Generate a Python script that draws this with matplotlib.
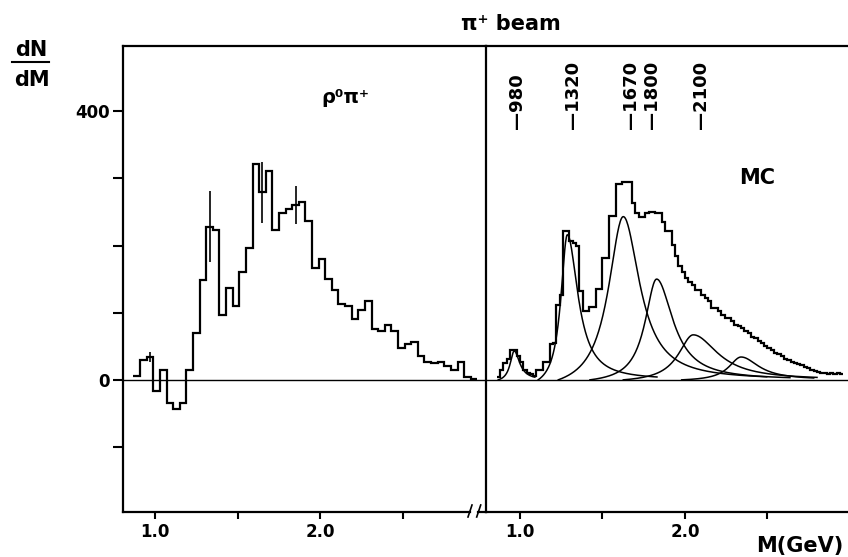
import numpy as np
import matplotlib
matplotlib.use("Agg")
import matplotlib.pyplot as plt
from matplotlib.lines import Line2D

plt.rcParams['font.family'] = ['DejaVu Sans']
plt.rcParams['font.weight'] = 'bold'

# rho0 pi+ spectrum, 40 MeV bins starting at 0.87 GeV
left_lo, left_w = 0.87, 0.04
left_counts = [5, 30, 34, -16, 14, -34, -44, -34, 14, 69, 149, 228, 223, 97, 136,
               110, 160, 197, 321, 279, 311, 223, 248, 255, 260, 265, 237, 167, 180,
               150, 134, 113, 110, 90, 104, 118, 76, 72, 81, 73, 48, 54, 56, 36, 26,
               25, 26, 21, 14, 27, 4, 1.5]
# bins that carry an error bar, and the half length of the bar
err_bins = [2, 11, 19, 24]
err_size = [8, 53, 46, 28]

# Monte Carlo spectrum, 20 MeV bins starting at 0.86 GeV
mc_lo, mc_w = 0.86, 0.02
mc_counts = [4, 14, 25, 31, 45, 45, 36, 26, 14, 10, 9, 6, 14, 14, 26, 26, 53, 55,
             112, 127, 221, 221, 207, 204, 200, 132, 102, 102, 108, 108, 135, 135,
             182, 182, 244, 244, 291, 291, 295, 295, 295, 264, 249, 242, 242, 248,
             250, 250, 248, 248, 235, 221, 221, 201, 184, 169, 161, 151, 146, 141,
             134, 134, 126, 122, 117, 107, 107, 102, 97, 92, 92, 87, 82, 80, 77, 73,
             69, 64, 62, 58, 55, 50, 47, 45, 40, 38, 35, 31, 29, 27, 25, 23, 22, 19,
             18, 15, 13, 11, 10, 10, 9, 10, 9, 10, 9]

# resonance components in the MC (peak position, height, half widths, range)
bw_peak = [0.965, 1.287, 1.626, 1.828, 2.05, 2.34]
bw_height = [43, 216, 243, 150, 67, 34]
bw_left = [0.030, 0.048, 0.109, 0.085, 0.11, 0.09]
bw_right = [0.040, 0.077, 0.12, 0.12, 0.18, 0.13]
bw_start = [0.868, 1.11, 1.232, 1.424, 1.626, 1.98]
bw_end = [1.09, 1.83, 2.495, 2.636, 2.80, 2.78]

mass_labels = ['980', '1320', '1670', '1800', '2100']

W, H = 848, 557


def box(x0, x1, ytop, ybot):
    return [x0 / W, 1 - ybot / H, (x1 - x0) / W, (ybot - ytop) / H]


fig = plt.figure(figsize=(W / 100, H / 100), dpi=100)
ax1 = fig.add_axes(box(122.7, 486, 46, 511.5))
ax2 = fig.add_axes(box(486, 850, 46, 511.5))

for ax in (ax1, ax2):
    ax.set_ylim(-196, 497)
    for s in ax.spines.values():
        s.set_linewidth(1.6)
    ax.spines['right'].set_visible(False)
    ax.axhline(0, color='k', lw=1.0, zorder=1)
    ax.set_xticks([1.0, 1.5, 2.0, 2.5])
    ax.set_xticklabels(['1.0', '', '2.0', ''])
    ax.tick_params(axis='x', direction='out', length=5, width=1.5, labelsize=12, pad=3)

ax1.set_xlim(0.805, 3.002)
ax2.set_xlim(0.794, 3.0)
ax1.spines['bottom'].set_bounds(0.805, 2.905)

ax1.set_yticks([-100, 0, 100, 200, 300, 400])
ax1.set_yticklabels(['', '0', '', '', '', '400'])
ax1.tick_params(axis='y', direction='out', length=7, width=1.5, labelsize=12, pad=2)
ax2.set_yticks([])

# data histogram
left_edges = left_lo + left_w * np.arange(len(left_counts) + 1)
ax1.stairs(left_counts, left_edges, color='k', lw=1.6, baseline=None)
centers = left_edges[:-1] + left_w / 2
ax1.errorbar(centers[err_bins], np.array(left_counts)[err_bins], yerr=err_size,
             fmt='none', ecolor='k', elinewidth=1.2, capsize=0)
ax1.text(2.149, 421, 'ρ⁰π⁺', fontsize=14, ha='center', va='center')

# MC histogram with its components
mc_edges = mc_lo + mc_w * np.arange(len(mc_counts) + 1)
ax2.stairs(mc_counts, mc_edges, color='k', lw=1.6, baseline=None)

for m0, a, gl, gr, s, e in zip(bw_peak, bw_height, bw_left, bw_right, bw_start, bw_end):
    m = np.linspace(s, e, 300)
    g = np.where(m < m0, gl, gr)
    lor = 1 / (1 + ((m - m0) / g) ** 2)
    ls = 1 / (1 + ((s - m0) / gl) ** 2)
    y = np.where(m < m0, a * (lor - ls) / (1 - ls), a * lor)
    ax2.plot(m, y, color='k', lw=1.1)

for lab in mass_labels:
    ax2.text(int(lab) / 1000, 373, '—' + lab, rotation=90, ha='center',
             va='bottom', fontsize=13)

ax2.text(2.44, 300, 'MC', fontsize=15, ha='center', va='center')

# axis break on the bottom line
for xb in (470, 478.7):
    fig.add_artist(Line2D([(xb - 2) / W, (xb + 2) / W], [1 - 517 / H, 1 - 505 / H],
                          color='k', lw=1.2))
fig.add_artist(Line2D([478 / W, 486 / W], [1 - 511.5 / H] * 2, color='k', lw=1.6))

fig.text(511 / W, 1 - 24 / H, 'π⁺ beam', ha='center', va='center', fontsize=15)
fig.text(31 / W, 1 - 50 / H, 'dN', ha='center', va='center', fontsize=15)
fig.text(32 / W, 1 - 80 / H, 'dM', ha='center', va='center', fontsize=15)
fig.add_artist(Line2D([12 / W, 49 / W], [1 - 62 / H] * 2, color='k', lw=1.5))
fig.text(843 / W, 1 - 546 / H, 'M(GeV)', ha='right', va='center', fontsize=15)

fig.savefig('out.png', dpi=100)
